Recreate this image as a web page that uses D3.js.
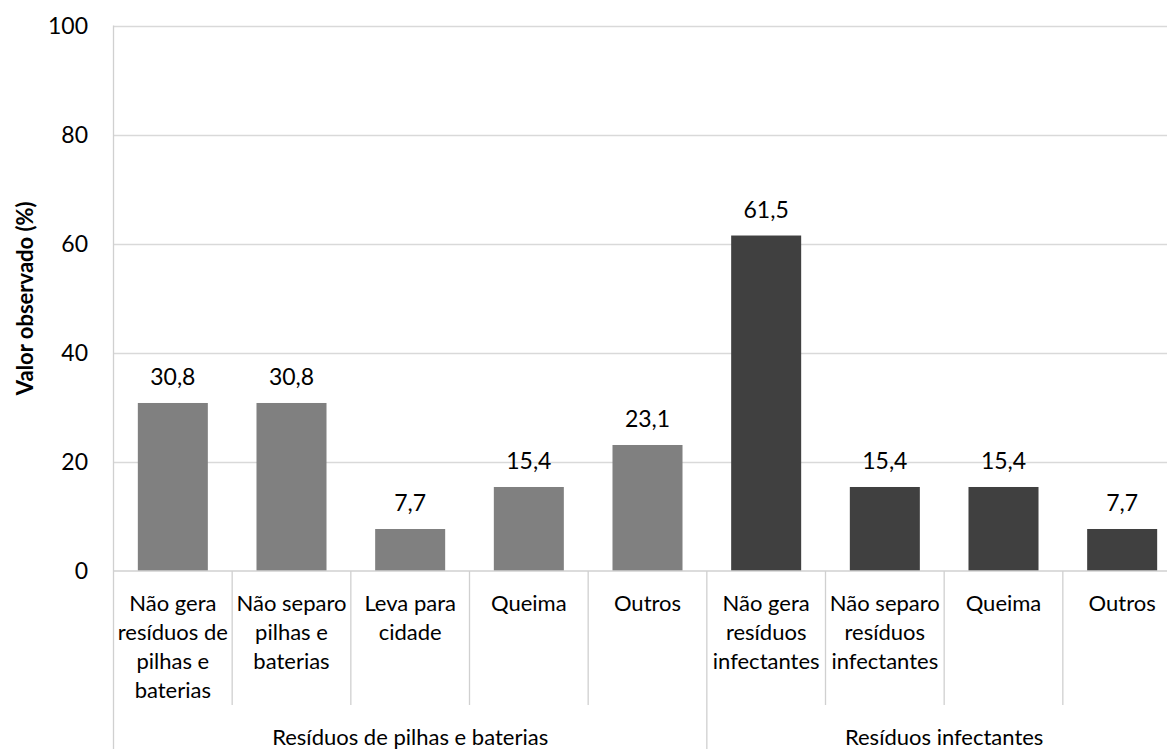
<!DOCTYPE html>
<html>
<head>
<meta charset="utf-8">
<script src="https://cdn.jsdelivr.net/npm/d3@7"></script>
<style>
  html, body { margin: 0; padding: 0; background: #fff; overflow: hidden; }
  text { font-family: Lato, "Open Sans", sans-serif; fill: #000; }
</style>
</head>
<body>
<svg id="chart" width="1167" height="749"></svg>
<script>
const categories = [
  ["Não gera", "resíduos de", "pilhas e", "baterias"],
  ["Não separo", "pilhas e", "baterias"],
  ["Leva para", "cidade"],
  ["Queima"],
  ["Outros"],
  ["Não gera", "resíduos", "infectantes"],
  ["Não separo", "resíduos", "infectantes"],
  ["Queima"],
  ["Outros"]
];
const groups = ["Resíduos de pilhas e baterias", "Resíduos infectantes"];
const groupOf = [0, 0, 0, 0, 0, 1, 1, 1, 1];
const values = [30.8, 30.8, 7.7, 15.4, 23.1, 61.5, 15.4, 15.4, 7.7];
const valueLabels = ["30,8", "30,8", "7,7", "15,4", "23,1", "61,5", "15,4", "15,4", "7,7"];
const yTicks = [0, 20, 40, 60, 80, 100];
const yTitle = "Valor observado (%)";
const groupColors = ["#808080", "#404040"];

(function () {
const svg = d3.select("#chart");
const pL = 113.5, pR = 1181.5, pT = 25.5, pB = 571;

const idx = categories.map((d, i) => i);
const x = d3.scaleBand().domain(idx).range([pL, pR]).paddingInner(0).paddingOuter(0);
const y = d3.scaleLinear().domain([0, 100]).range([pB, pT]);
const barW = x.bandwidth() * 0.59;

// gridlines
svg.append("g").selectAll("line").data(yTicks.filter(t => t > 0)).join("line")
  .attr("x1", pL).attr("x2", pR)
  .attr("y1", d => Math.round(y(d)) + 0.5).attr("y2", d => Math.round(y(d)) + 0.5)
  .attr("stroke", "#d9d9d9").attr("stroke-width", 1.3);

// y axis labels
svg.append("g").selectAll("text").data(yTicks).join("text")
  .attr("x", 88).attr("y", d => y(d)).attr("dy", "0.35em")
  .attr("text-anchor", "end").style("font-size", "23px")
  .text(d => d);

// bars
svg.append("g").selectAll("rect").data(values).join("rect")
  .attr("x", (d, i) => x(i) + (x.bandwidth() - barW) / 2)
  .attr("width", barW)
  .attr("y", d => y(d))
  .attr("height", d => pB - y(d))
  .attr("fill", (d, i) => groupColors[groupOf[i]]);

// value labels
svg.append("g").selectAll("text").data(values).join("text")
  .attr("x", (d, i) => x(i) + x.bandwidth() / 2)
  .attr("y", d => y(d) - 18)
  .attr("text-anchor", "middle").style("font-size", "23px")
  .text((d, i) => valueLabels[i]);

// axes lines
const axisColor = "#d0d0d0";
svg.append("line").attr("x1", pL).attr("x2", pL).attr("y1", pT).attr("y2", 749)
  .attr("stroke", axisColor).attr("stroke-width", 1.3);
svg.append("line").attr("x1", pL).attr("x2", pR).attr("y1", pB).attr("y2", pB)
  .attr("stroke", axisColor).attr("stroke-width", 1.3);

// category dividers
svg.append("g").selectAll("line").data(idx.slice(1)).join("line")
  .attr("x1", d => x(d)).attr("x2", d => x(d))
  .attr("y1", pB).attr("y2", d => groupOf[d] !== groupOf[d - 1] ? 749 : 705)
  .attr("stroke", axisColor).attr("stroke-width", 1.3);

// category labels
const catG = svg.append("g").selectAll("text").data(categories).join("text")
  .attr("x", (d, i) => x(i) + x.bandwidth() / 2)
  .attr("text-anchor", "middle").style("font-size", "22px");
catG.each(function(lines, i) {
  const t = d3.select(this);
  lines.forEach((ln, k) => {
    t.append("tspan").attr("x", x(i) + x.bandwidth() / 2)
      .attr("y", 603 + k * 29).attr("dy", "0.35em").text(ln);
  });
});

// group labels
groups.forEach((g, gi) => {
  const members = idx.filter(i => groupOf[i] === gi);
  const x0 = x(members[0]), x1 = x(members[members.length - 1]) + x.bandwidth();
  svg.append("text").attr("x", (x0 + x1) / 2).attr("y", 737).attr("dy", "0.35em")
    .attr("text-anchor", "middle").style("font-size", "22px").text(g);
});

// y title
svg.append("text")
  .attr("transform", `translate(25, ${(pT + pB) / 2}) rotate(-90)`)
  .attr("dy", "0.35em")
  .attr("text-anchor", "middle").style("font-size", "22px").style("font-weight", "bold")
  .text(yTitle);
})();
</script>
</body>
</html>
